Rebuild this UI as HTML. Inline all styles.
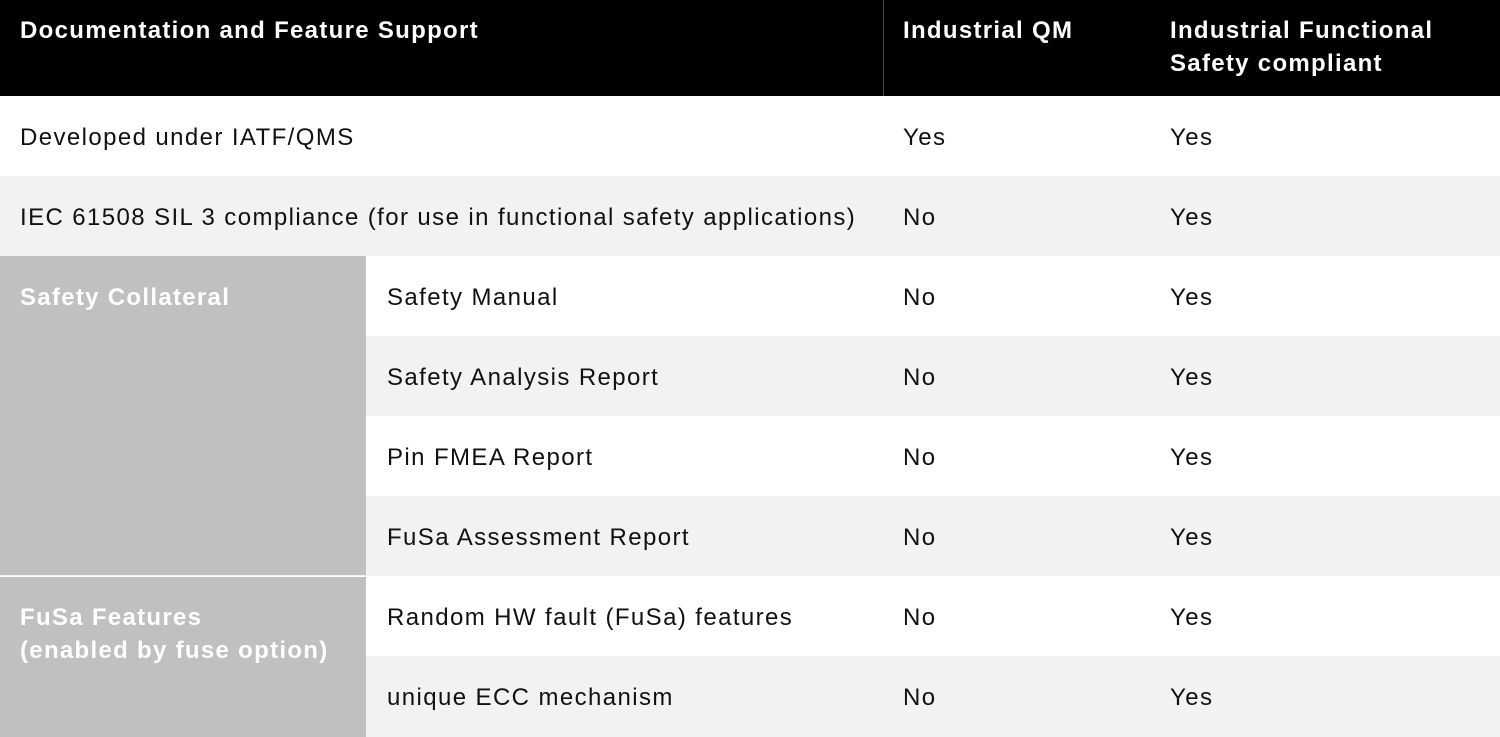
<!DOCTYPE html>
<html><head><meta charset="utf-8"><style>
html,body{margin:0;padding:0;width:1500px;height:737px;overflow:hidden;background:#fff;font-family:"Liberation Sans",sans-serif;}
.a{position:absolute;box-sizing:border-box;}
.t{position:absolute;font-size:24px;color:#111;white-space:nowrap;line-height:33px;letter-spacing:1.4px;}
.h{color:#fff;font-weight:bold;letter-spacing:1.3px;}
.g{color:#fff;font-weight:bold;letter-spacing:1.3px;}
</style></head><body>
<div class="a" style="left:0;top:0;width:1500px;height:96px;background:#000"></div>
<div class="a" style="left:883px;top:0;width:1px;height:96px;background:#444"></div>
<div class="t h" style="left:20px;top:14px">Documentation and Feature Support</div>
<div class="t h" style="left:903px;top:14px">Industrial QM</div>
<div class="t h" style="left:1170px;top:14px">Industrial Functional<br>Safety compliant</div>

<div class="a" style="left:0;top:176px;width:1500px;height:80px;background:#f2f2f2"></div>
<div class="a" style="left:0;top:336px;width:1500px;height:80px;background:#f2f2f2"></div>
<div class="a" style="left:0;top:496px;width:1500px;height:80px;background:#f2f2f2"></div>
<div class="a" style="left:0;top:656px;width:1500px;height:81px;background:#f2f2f2"></div>
<div class="a" style="left:0;top:256px;width:366px;height:319px;background:#c0c0c0"></div>
<div class="a" style="left:0;top:577px;width:366px;height:160px;background:#c0c0c0"></div>

<div class="t" style="left:20px;top:121px">Developed under IATF/QMS</div>
<div class="t" style="left:903px;top:121px">Yes</div>
<div class="t" style="left:1170px;top:121px">Yes</div>
<div class="t" style="left:20px;top:201px">IEC 61508 SIL 3 compliance (for use in functional safety applications)</div>
<div class="t" style="left:903px;top:201px">No</div>
<div class="t" style="left:1170px;top:201px">Yes</div>

<div class="t g" style="left:20px;top:281px">Safety Collateral</div>
<div class="t" style="left:387px;top:281px">Safety Manual</div>
<div class="t" style="left:903px;top:281px">No</div>
<div class="t" style="left:1170px;top:281px">Yes</div>
<div class="t" style="left:387px;top:361px">Safety Analysis Report</div>
<div class="t" style="left:903px;top:361px">No</div>
<div class="t" style="left:1170px;top:361px">Yes</div>
<div class="t" style="left:387px;top:441px">Pin FMEA Report</div>
<div class="t" style="left:903px;top:441px">No</div>
<div class="t" style="left:1170px;top:441px">Yes</div>
<div class="t" style="left:387px;top:521px">FuSa Assessment Report</div>
<div class="t" style="left:903px;top:521px">No</div>
<div class="t" style="left:1170px;top:521px">Yes</div>

<div class="t g" style="left:20px;top:601px">FuSa Features<br>(enabled by fuse option)</div>
<div class="t" style="left:387px;top:601px">Random HW fault (FuSa) features</div>
<div class="t" style="left:903px;top:601px">No</div>
<div class="t" style="left:1170px;top:601px">Yes</div>
<div class="t" style="left:387px;top:681px">unique ECC mechanism</div>
<div class="t" style="left:903px;top:681px">No</div>
<div class="t" style="left:1170px;top:681px">Yes</div>
</body></html>
